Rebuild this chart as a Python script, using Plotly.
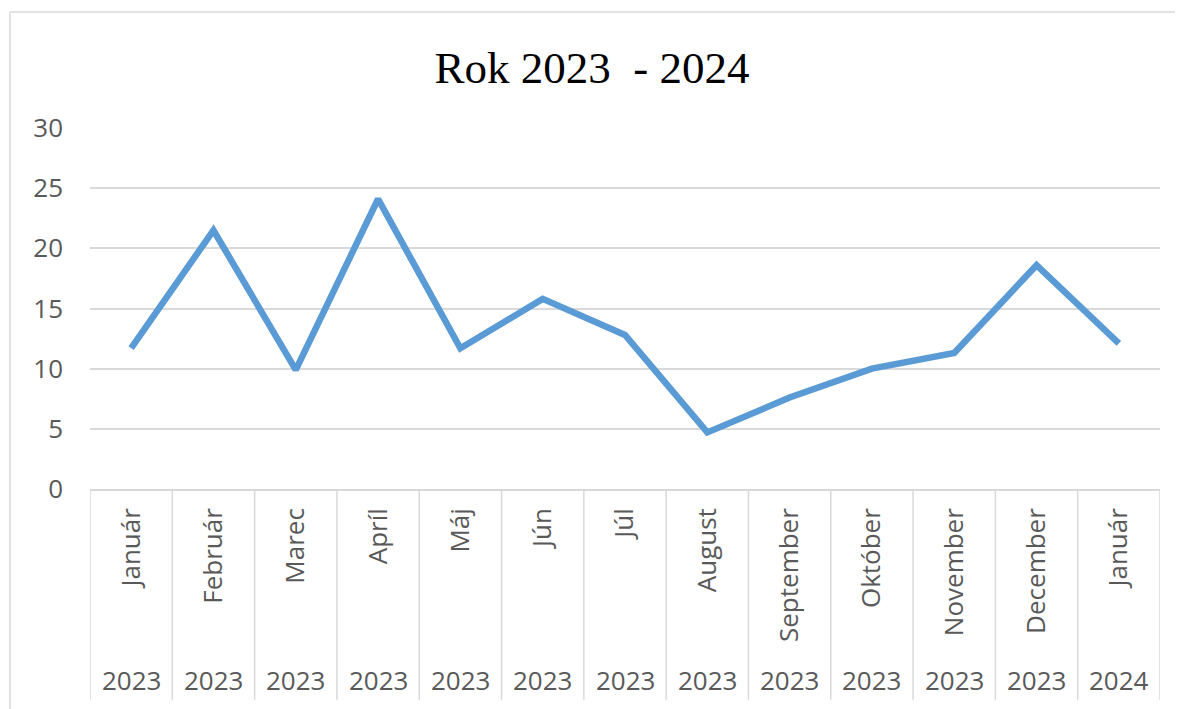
import plotly.graph_objects as go

months = ["Január", "Február", "Marec", "Apríl", "Máj", "Jún", "Júl",
          "August", "September", "Október", "November", "December", "Január"]
years = ["2023"] * 12 + ["2024"]
values = [11.7, 21.5, 9.9, 24.1, 11.7, 15.8, 12.8, 4.7, 7.6, 10.0, 11.3, 18.6, 12.1]
y_ticks = [0, 5, 10, 15, 20, 25, 30]

idx = list(range(len(months)))
GRID = "#d9d9d9"
TXT = "#595959"
FONT = "Open Sans"

fig = go.Figure()
fig.add_trace(go.Scatter(
    x=idx, y=values, mode="lines",
    line=dict(color="#5b9bd5", width=6.5),
    hoverinfo="skip", showlegend=False,
))

shapes = []
# category dividers below the axis
for i in range(len(months) + 1):
    shapes.append(dict(type="line", xref="x", yref="paper",
                       x0=i - 0.5, x1=i - 0.5, y0=0, y1=-0.584,
                       line=dict(color=GRID, width=1.5), layer="below"))
# outer chart border (top and left edges visible)
shapes.append(dict(type="line", xref="paper", yref="paper",
                   x0=-0.0748, x1=1.1, y0=1.321, y1=1.321,
                   line=dict(color=GRID, width=1.5), layer="below"))
shapes.append(dict(type="line", xref="paper", yref="paper",
                   x0=-0.0748, x1=-0.0748, y0=-1.0, y1=1.321,
                   line=dict(color=GRID, width=1.5), layer="below"))

annotations = []
for i, yr in enumerate(years):
    annotations.append(dict(x=i, xref="x", y=0, yref="paper", yshift=-191,
                            text=yr, showarrow=False, yanchor="middle",
                            font=dict(family=FONT, size=26, color=TXT)))

fig.update_layout(
    width=1175, height=701,
    margin=dict(l=82, r=23, t=120, b=220),
    paper_bgcolor="white", plot_bgcolor="white",
    title=dict(text="Rok 2023\u00a0 - 2024", x=(592 - 8) / 1175, xanchor="center",
               y=1 - 59 / 701, yanchor="middle", yref="container",
               font=dict(family="Liberation Serif", size=45, color="#000000")),
    xaxis=dict(range=[-0.5, len(months) - 0.5], tickmode="array",
               tickvals=idx, ticktext=months, tickangle=-90,
               showgrid=False, zeroline=False, showline=True,
               linecolor=GRID, linewidth=1.5, ticks="",
               ticklabelstandoff=7,
               tickfont=dict(family=FONT, size=26, color=TXT)),
    yaxis=dict(range=[0, 30], tickmode="array", tickvals=y_ticks,
               showgrid=True, gridcolor=GRID, gridwidth=1.5,
               zeroline=False, showline=False, ticks="",
               ticklabelstandoff=26,
               tickfont=dict(family=FONT, size=26, color=TXT)),
    shapes=shapes, annotations=annotations,
)

fig.write_html("out.html")
